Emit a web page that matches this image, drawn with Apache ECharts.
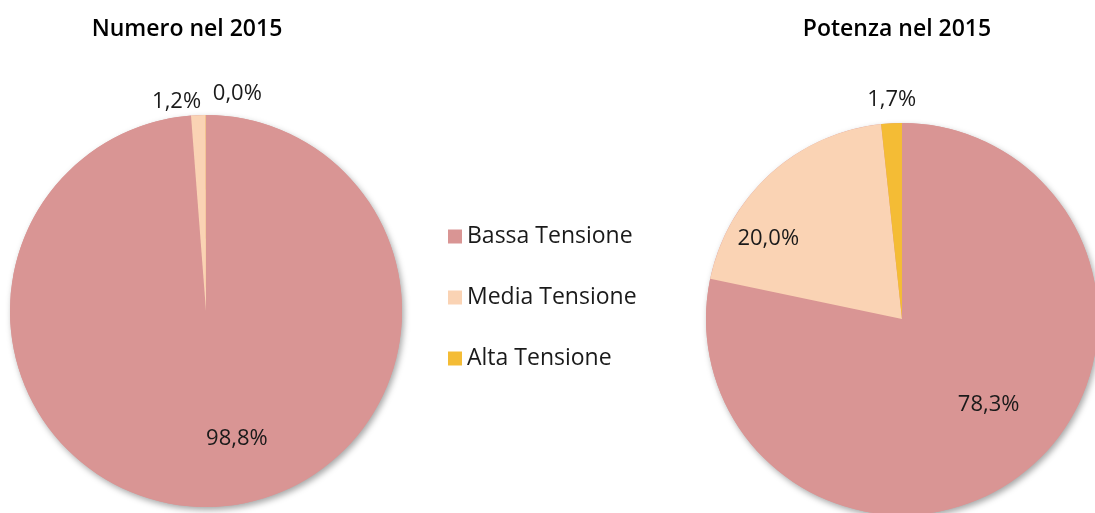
<!DOCTYPE html>
<html>
<head>
<meta charset="utf-8">
<script src="https://cdn.jsdelivr.net/npm/echarts@6/dist/echarts.min.js"></script>
<style>
  html, body { margin: 0; padding: 0; background: #fff; }
  #chart { width: 1095px; height: 513px; }
</style>
</head>
<body>
<div id="chart"></div>
<script>
const categories = ['Bassa Tensione', 'Media Tensione', 'Alta Tensione'];
// Alta Tensione in "Numero" reads 0,0% (rounded), so a tiny value
const numeroValues = [98.8, 1.2, 0.02];
const potenzaValues = [78.3, 20.0, 1.7];
const titles = ['Numero nel 2015', 'Potenza nel 2015'];

const colors = ['#d99594', '#fad3b4', '#f4bc35'];
const FONT = '"Open Sans", "Noto Sans", sans-serif';

// inside for big slices, outside for thin ones
const numeroPos = ['inside', 'outside', 'outside'];
const potenzaPos = ['inside', 'inside', 'outside'];

// label nudges [dx, dy] per series / slice
const labelNudge = [
  [[27, 27], [8, -7], [61, -15]],
  [[23, 7], [-66, -5], [30, -18]]
];

const fmt = p => p.value.toFixed(1).replace('.', ',') + '%';

const buildData = (values, positions) => values.map((v, i) => ({
  name: categories[i],
  value: v,
  label: { position: positions[i] }
}));

const chart = echarts.init(document.getElementById('chart'));

const pieBase = {
  type: 'pie',
  radius: 196,
  startAngle: 90,
  clockwise: true,
  z: 3,
  avoidLabelOverlap: false,
  minShowLabelAngle: 0,
  label: {
    show: true,
    formatter: fmt,
    color: '#1a1a1a',
    fontSize: 22,
    fontFamily: FONT
  },
  labelLine: { show: false, length: 6, length2: 0 },
  labelLayout: p => {
    const n = labelNudge[p.seriesIndex][p.dataIndex];
    return { dx: n[0], dy: n[1] };
  },
  emphasis: { disabled: true }
};

// soft drop shadow behind each pie
const backdrop = center => ({
  type: 'pie',
  radius: 196,
  center: center,
  z: 1,
  silent: true,
  label: { show: false },
  labelLine: { show: false },
  emphasis: { disabled: true },
  itemStyle: {
    color: '#d99594',
    shadowBlur: 6,
    shadowOffsetX: 2,
    shadowOffsetY: 3,
    shadowColor: 'rgba(0,0,0,0.35)'
  },
  data: [{ name: 'shadow', value: 1 }]
});

const titleStyle = { fontSize: 23, fontWeight: 600, color: '#000', fontFamily: FONT };

chart.setOption({
  backgroundColor: '#fff',
  color: colors,
  animation: false,
  title: [
    { text: titles[0], left: 182, top: 13, textAlign: 'center', textStyle: titleStyle },
    { text: titles[1], left: 892, top: 13, textAlign: 'center', textStyle: titleStyle }
  ],
  legend: {
    orient: 'vertical',
    left: 443,
    top: 220,
    itemWidth: 14,
    itemHeight: 14,
    itemGap: 38,
    icon: 'rect',
    data: categories,
    textStyle: { fontSize: 23, color: '#1a1a1a', fontFamily: FONT }
  },
  series: [
    Object.assign({}, pieBase, {
      name: titles[0],
      center: [206, 311],
      data: buildData(numeroValues, numeroPos)
    }),
    Object.assign({}, pieBase, {
      name: titles[1],
      center: [902, 319],
      data: buildData(potenzaValues, potenzaPos)
    }),
    backdrop([206, 311]),
    backdrop([902, 319])
  ]
});
</script>
</body>
</html>
